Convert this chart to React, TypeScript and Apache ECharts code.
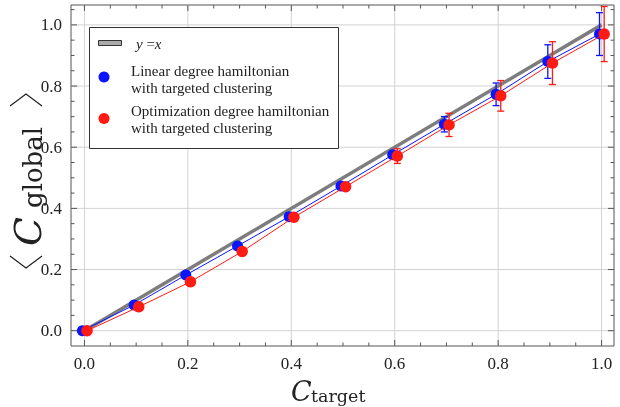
import React, { useEffect, useRef } from "react";
import * as echarts from "echarts";

// ---- data ----
const targets = [0, 0.1, 0.2, 0.3, 0.4, 0.5, 0.6, 0.7, 0.8, 0.9, 1.0];
const linearMean = [0, 0.084, 0.182, 0.277, 0.373, 0.473, 0.575, 0.675, 0.773, 0.88, 0.97];
const linearErr = [0, 0, 0, 0, 0.003, 0.005, 0.008, 0.025, 0.037, 0.055, 0.07];
const optimMean = [0, 0.078, 0.16, 0.259, 0.371, 0.471, 0.571, 0.673, 0.768, 0.875, 0.97];
const optimErr = [0, 0, 0, 0, 0.004, 0.006, 0.024, 0.038, 0.05, 0.07, 0.09];
const identityX = [0, 1];
const identityY = [0, 1];
const linearShift = -0.004;
const optimShift = 0.005;

const majorTicks = [0, 0.2, 0.4, 0.6, 0.8, 1.0];
const tickLabels = ["0.0", "0.2", "0.4", "0.6", "0.8", "1.0"];
const xMinorTicks = [0.05, 0.1, 0.15, 0.25, 0.3, 0.35, 0.45, 0.5, 0.55, 0.65, 0.7, 0.75, 0.85, 0.9, 0.95];
const yMinorTicks = [0.05, 0.1, 0.15, 0.25, 0.3, 0.35, 0.45, 0.5, 0.55, 0.65, 0.7, 0.75, 0.85, 0.9, 0.95, 1.05];

const legendLinear = ["Linear degree hamiltonian", "with targeted clustering"];
const legendOptim = ["Optimization degree hamiltonian", "with targeted clustering"];

const BLUE = "#0a14ff";
const RED = "#ff1a14";
const SERIF = "'Liberation Serif', 'Times New Roman', serif";
const DSERIF = "'DejaVu Serif', serif";

export default function App() {
  const ref = useRef<HTMLDivElement>(null);
  useEffect(() => {
    if (!ref.current) return;
    const chart = echarts.init(ref.current, undefined, { renderer: "svg" });

    const tickData: number[][] = [];
    majorTicks.forEach((v) => { tickData.push([v, 0, 6]); tickData.push([v, 1, 6]); });
    xMinorTicks.forEach((v) => tickData.push([v, 0, 3.5]));
    yMinorTicks.forEach((v) => tickData.push([v, 1, 3.5]));
    const gridData: number[][] = [];
    majorTicks.forEach((v) => { gridData.push([v, 0]); gridData.push([v, 1]); });

    const errRender = (color: string) => (params: any, api: any) => {
      const x = api.value(0), y = api.value(1), e = api.value(2);
      if (!e) return null;
      const top = api.coord([x, y + e]);
      const bot = api.coord([x, y - e]);
      const cw = 3.5;
      const st = { stroke: color, lineWidth: 1.3 };
      return {
        type: "group",
        children: [
          { type: "line", shape: { x1: top[0], y1: top[1], x2: bot[0], y2: bot[1] }, style: st },
          { type: "line", shape: { x1: top[0] - cw, y1: top[1], x2: top[0] + cw, y2: top[1] }, style: st },
          { type: "line", shape: { x1: bot[0] - cw, y1: bot[1], x2: bot[0] + cw, y2: bot[1] }, style: st },
        ],
      };
    };

    const labelFmt = (v: number) => tickLabels[majorTicks.findIndex((m) => Math.abs(m - v) < 1e-9)] ?? "";

    const option: any = {
      animation: false,
      grid: { left: 71, top: 5, width: 543, height: 341, show: true, borderColor: "#555", borderWidth: 1, backgroundColor: "transparent" },
      xAxis: {
        type: "value", min: -0.026, max: 1.024,
        axisLine: { show: false }, axisTick: { show: false }, splitLine: { show: false },
        axisLabel: { customValues: majorTicks, margin: 9, fontFamily: SERIF, fontSize: 17, color: "#222", formatter: labelFmt },
      },
      yAxis: {
        type: "value", min: -0.05, max: 1.065,
        axisLine: { show: false }, axisTick: { show: false }, splitLine: { show: false },
        axisLabel: { customValues: majorTicks, margin: 9, fontFamily: SERIF, fontSize: 17, color: "#222", formatter: labelFmt },
      },
      series: [
        {
          type: "custom", z: 1, silent: true, data: gridData,
          renderItem: (params: any, api: any) => {
            const v = api.value(0), isY = api.value(1);
            const cs = params.coordSys;
            const st = { stroke: "#d2d2d2", lineWidth: 1 };
            if (!isY) {
              const px = api.coord([v, 0])[0];
              return { type: "line", shape: { x1: px, y1: cs.y, x2: px, y2: cs.y + cs.height }, style: st };
            }
            const py = api.coord([0, v])[1];
            return { type: "line", shape: { x1: cs.x, y1: py, x2: cs.x + cs.width, y2: py }, style: st };
          },
        },
        {
          type: "custom", z: 1, silent: true, data: tickData,
          renderItem: (params: any, api: any) => {
            const v = api.value(0), isY = api.value(1), len = api.value(2);
            const cs = params.coordSys;
            const st = { stroke: "#555", lineWidth: 1 };
            if (!isY) {
              const px = api.coord([v, 0])[0];
              return {
                type: "group", children: [
                  { type: "line", shape: { x1: px, y1: cs.y + cs.height, x2: px, y2: cs.y + cs.height - len }, style: st },
                  { type: "line", shape: { x1: px, y1: cs.y, x2: px, y2: cs.y + len }, style: st },
                ],
              };
            }
            const py = api.coord([0, v])[1];
            return {
              type: "group", children: [
                { type: "line", shape: { x1: cs.x, y1: py, x2: cs.x + len, y2: py }, style: st },
                { type: "line", shape: { x1: cs.x + cs.width, y1: py, x2: cs.x + cs.width - len, y2: py }, style: st },
              ],
            };
          },
        },
        {
          type: "line", z: 2, silent: true, symbol: "none",
          data: identityX.map((x, i) => [x, identityY[i]]),
          lineStyle: { color: "#7d7d7d", width: 3.5 },
        },
        {
          type: "custom", z: 3, clip: true, silent: true,
          data: targets.map((t, i) => [t + linearShift, linearMean[i], linearErr[i]]),
          renderItem: errRender(BLUE),
        },
        {
          type: "line", z: 4, silent: true, symbol: "circle", symbolSize: 11,
          data: targets.map((t, i) => [t + linearShift, linearMean[i]]),
          lineStyle: { color: BLUE, width: 1 }, itemStyle: { color: BLUE },
        },
        {
          type: "custom", z: 5, clip: true, silent: true,
          data: targets.map((t, i) => [t + optimShift, optimMean[i], optimErr[i]]),
          renderItem: errRender(RED),
        },
        {
          type: "line", z: 6, silent: true, symbol: "circle", symbolSize: 11.5,
          data: targets.map((t, i) => [t + optimShift, optimMean[i]]),
          lineStyle: { color: RED, width: 1 }, itemStyle: { color: RED },
        },
      ],
      graphic: [
        // legend
        { type: "rect", z: 50, shape: { x: 89.5, y: 27.5, width: 249, height: 121 }, style: { fill: "#fff", stroke: "#333", lineWidth: 1 } },
        { type: "rect", z: 51, shape: { x: 98.5, y: 40.5, width: 23, height: 5 }, style: { fill: "#aaa", stroke: "#333", lineWidth: 1 } },
        {
          type: "text", z: 51, x: 136, y: 44,
          style: {
            text: "{i|y} =" + "{i|x}", verticalAlign: "middle", fill: "#222",
            font: "15px " + SERIF,
            rich: { i: { fontStyle: "italic", fontFamily: SERIF, fontSize: 15, fill: "#222" } },
          },
        },
        { type: "circle", z: 51, shape: { cx: 104, cy: 77, r: 5.5 }, style: { fill: BLUE } },
        { type: "text", z: 51, x: 131, y: 70.5, style: { text: legendLinear[0], font: "15px " + SERIF, fill: "#222", verticalAlign: "middle" } },
        { type: "text", z: 51, x: 131, y: 87.5, style: { text: legendLinear[1], font: "15px " + SERIF, fill: "#222", verticalAlign: "middle" } },
        { type: "circle", z: 51, shape: { cx: 104, cy: 118.5, r: 5.5 }, style: { fill: RED } },
        { type: "text", z: 51, x: 131, y: 110.5, style: { text: legendOptim[0], font: "15px " + SERIF, fill: "#222", verticalAlign: "middle" } },
        { type: "text", z: 51, x: 131, y: 128, style: { text: legendOptim[1], font: "15px " + SERIF, fill: "#222", verticalAlign: "middle" } },
        // x title
        { type: "text", z: 51, x: 291, y: 391, style: { text: "C", font: "italic 27px " + DSERIF, fill: "#222", verticalAlign: "middle" } },
        { type: "text", z: 51, x: 311, y: 396, style: { text: "target", font: "17.5px " + DSERIF, fill: "#222", verticalAlign: "middle" } },
        // y title (rotated)
        {
          type: "group", x: 42, y: 272, rotation: Math.PI / 2, z: 51,
          children: [
            { type: "polyline", shape: { points: [[16, -32], [4, -16], [16, 0]] }, style: { stroke: "#222", lineWidth: 1.2, fill: "none" } },
            { type: "text", x: 26, y: -14, style: { text: "C", font: "italic 38px " + DSERIF, fill: "#222", verticalAlign: "middle" } },
            { type: "text", x: 64, y: -9, style: { text: "global", font: "26px " + DSERIF, fill: "#222", verticalAlign: "middle" } },
            { type: "polyline", shape: { points: [[166, -32], [178, -16], [166, 0]] }, style: { stroke: "#222", lineWidth: 1.2, fill: "none" } },
          ],
        },
      ],
    };
    chart.setOption(option);
    return () => chart.dispose();
  }, []);
  return <div ref={ref} style={{ position: "fixed", left: 0, top: 0, width: 620, height: 407 }} />;
}
